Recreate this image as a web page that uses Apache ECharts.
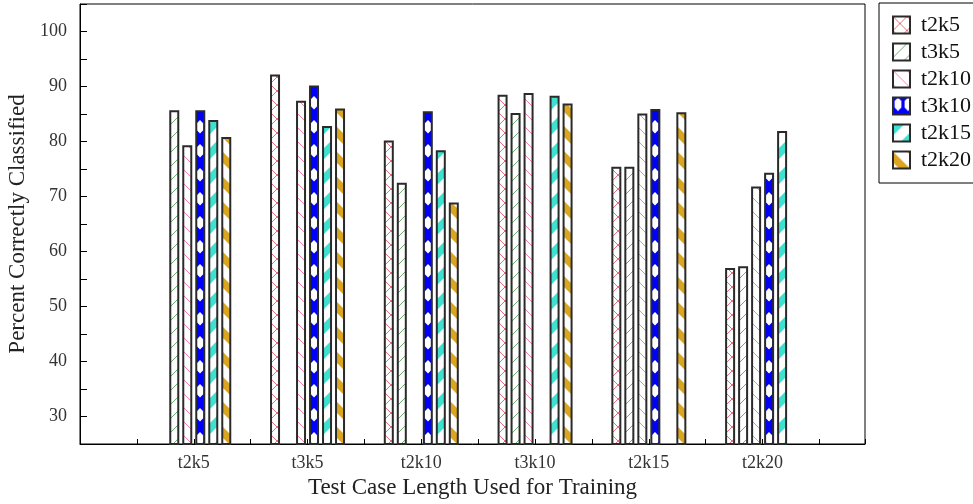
<!DOCTYPE html>
<html><head><meta charset="utf-8">
<script src="https://cdn.jsdelivr.net/npm/echarts@6/dist/echarts.min.js"></script>
<style>html,body{margin:0;padding:0;background:#fff}#c{width:973px;height:504px}</style>
</head><body><div id="c"></div>
<script>
// ---- data ----
const categories = ['t2k5', 't3k5', 't2k10', 't3k10', 't2k15', 't2k20'];
const seriesNames = ['t2k5', 't3k5', 't2k10', 't3k10', 't2k15', 't2k20'];
const valT2k5  = [null, 92.2, 80.2, 88.5, 75.4, 57.0];
const valT3k5  = [85.7, null, 72.5, 85.2, 75.4, 57.3];
const valT2k10 = [79.3, 87.4, null, 88.8, 85.1, 71.8];
const valT3k10 = [85.7, 90.2, 85.5, null, 85.9, 74.3];
const valT2k15 = [83.9, 82.8, 78.4, 88.3, null, 81.9];
const valT2k20 = [80.8, 86.0, 68.9, 86.9, 85.3, null];
const yTickLabels = [30, 40, 50, 60, 70, 80, 90, 100];
const values = [valT2k5, valT3k5, valT2k10, valT3k10, valT2k15, valT2k20];

const FONT = 'Liberation Serif, Times New Roman, serif';

// ---- pattern tiles ----
function mk(w, h) { const c = document.createElement('canvas'); c.width = w; c.height = h; return c; }
function hatch(color, P, slash, back) {
  const c = mk(P, P), g = c.getContext('2d');
  g.fillStyle = '#fff'; g.fillRect(0, 0, P, P);
  g.strokeStyle = color; g.lineWidth = 1;
  g.beginPath();
  if (slash) for (const k of [0, P, 2 * P]) { g.moveTo(k - P - 2, P + 2); g.lineTo(k + 2, -2); }
  if (back) for (const k of [-P, 0, P]) { g.moveTo(-2, k - 2); g.lineTo(P + 2, k + P + 2); }
  g.stroke();
  return c;
}
function stripes(color, P, w, slash) {
  const c = mk(P, P), g = c.getContext('2d');
  g.fillStyle = '#fff'; g.fillRect(0, 0, P, P);
  g.fillStyle = color;
  for (let k = -1; k <= 2; k++) {
    const b = k * P;
    g.beginPath();
    if (slash) { g.moveTo(0, b); g.lineTo(0, b + w); g.lineTo(P, b + w - P); g.lineTo(P, b - P); }
    else { g.moveTo(0, b); g.lineTo(0, b + w); g.lineTo(P, b + w + P); g.lineTo(P, b + P); }
    g.closePath(); g.fill();
  }
  return c;
}
function hexTile() {
  const c = mk(10, 24), g = c.getContext('2d');
  g.fillStyle = '#0000ff'; g.fillRect(0, 0, 10, 24);
  g.fillStyle = '#fff';
  g.beginPath();
  g.moveTo(5, 0); g.lineTo(8.4, 3.5); g.lineTo(8.4, 10); g.lineTo(5, 13.5); g.lineTo(1.6, 10); g.lineTo(1.6, 3.5);
  g.closePath(); g.fill();
  return c;
}
const tiles = [
  hatch('#e8707c', 14, true, true),
  hatch('#6fb06f', 14, true, false),
  hatch('#ff7fb4', 14, false, true),
  hexTile(),
  stripes('#40e0d0', 25, 11, true),
  stripes('#daa520', 25, 11, false)
];

const chart = echarts.init(document.getElementById('c'), null, { renderer: 'canvas' });

const series = seriesNames.map((name, k) => ({
  name: name,
  type: 'bar',
  barWidth: 10,
  barGap: '30%',
  itemStyle: { color: { image: tiles[k], repeat: 'repeat' }, borderColor: '#2a2a2a', borderWidth: 2 },
  data: values[k].map((v, i) => [i + 1, v])
}));

const option = {
  animation: false,
  backgroundColor: '#fff',
  grid: { left: 80, right: 108, top: 4, bottom: 60, show: true, borderColor: '#000', borderWidth: 1, containLabel: false, outerBoundsMode: 'none' },
  legend: {
    data: seriesNames,
    orient: 'vertical',
    left: 879, top: 3,
    icon: 'rect',
    itemWidth: 17, itemHeight: 17, itemGap: 5,
    padding: [11, 30, 12, 13],
    borderColor: '#000', borderWidth: 1,
    backgroundColor: '#fff',
    textStyle: { fontFamily: FONT, fontSize: 22, color: '#111', padding: [0, 0, 0, 6] }
  },
  xAxis: {
    type: 'value', min: 0, max: 6.9, interval: 0.5,
    name: 'Test Case Length Used for Training', nameLocation: 'middle', nameGap: 31,
    nameTextStyle: { fontFamily: FONT, fontSize: 23, color: '#222' },
    axisLine: { show: true, lineStyle: { color: '#000', width: 1 } },
    axisTick: { show: true, inside: true, length: 5, lineStyle: { color: '#000' } },
    axisLabel: {
      fontFamily: FONT, fontSize: 18, color: '#333', margin: 10,
      showMinLabel: true, showMaxLabel: true,
      formatter: v => (Math.abs(v - Math.round(v)) < 1e-6 && categories[Math.round(v) - 1]) ? categories[Math.round(v) - 1] : ''
    },
    splitLine: { show: false }
  },
  yAxis: {
    type: 'value', min: 25, max: 105, interval: 5,
    name: 'Percent Correctly Classified', nameLocation: 'middle', nameGap: 43,
    nameTextStyle: { fontFamily: FONT, fontSize: 23, color: '#222' },
    axisLine: { show: true, lineStyle: { color: '#000', width: 1 } },
    axisTick: { show: true, inside: true, length: 7, lineStyle: { color: '#000' } },
    axisLabel: {
      fontFamily: FONT, fontSize: 18, color: '#333', margin: 13,
      formatter: v => yTickLabels.indexOf(Math.round(v)) >= 0 && Math.abs(v - Math.round(v)) < 1e-6 ? String(Math.round(v)) : ''
    },
    splitLine: { show: false }
  },
  series: series
};
chart.setOption(option);

// align each bar's fill pattern with the bar's own left edge
try {
  const model = chart.getModel();
  const upd = seriesNames.map((name, k) => {
    const d = model.getSeriesByIndex(k).getData();
    return {
      data: values[k].map((v, i) => {
        const lay = d.getItemLayout(i);
        const x = lay && isFinite(lay.x) ? Math.round(lay.x) : 0;
        return { value: [i + 1, v], itemStyle: { color: { image: tiles[k], repeat: 'repeat', x: x, y: 0 } } };
      })
    };
  });
  chart.setOption({ series: upd });
} catch (e) { console.log(e); }
</script>
</body></html>
